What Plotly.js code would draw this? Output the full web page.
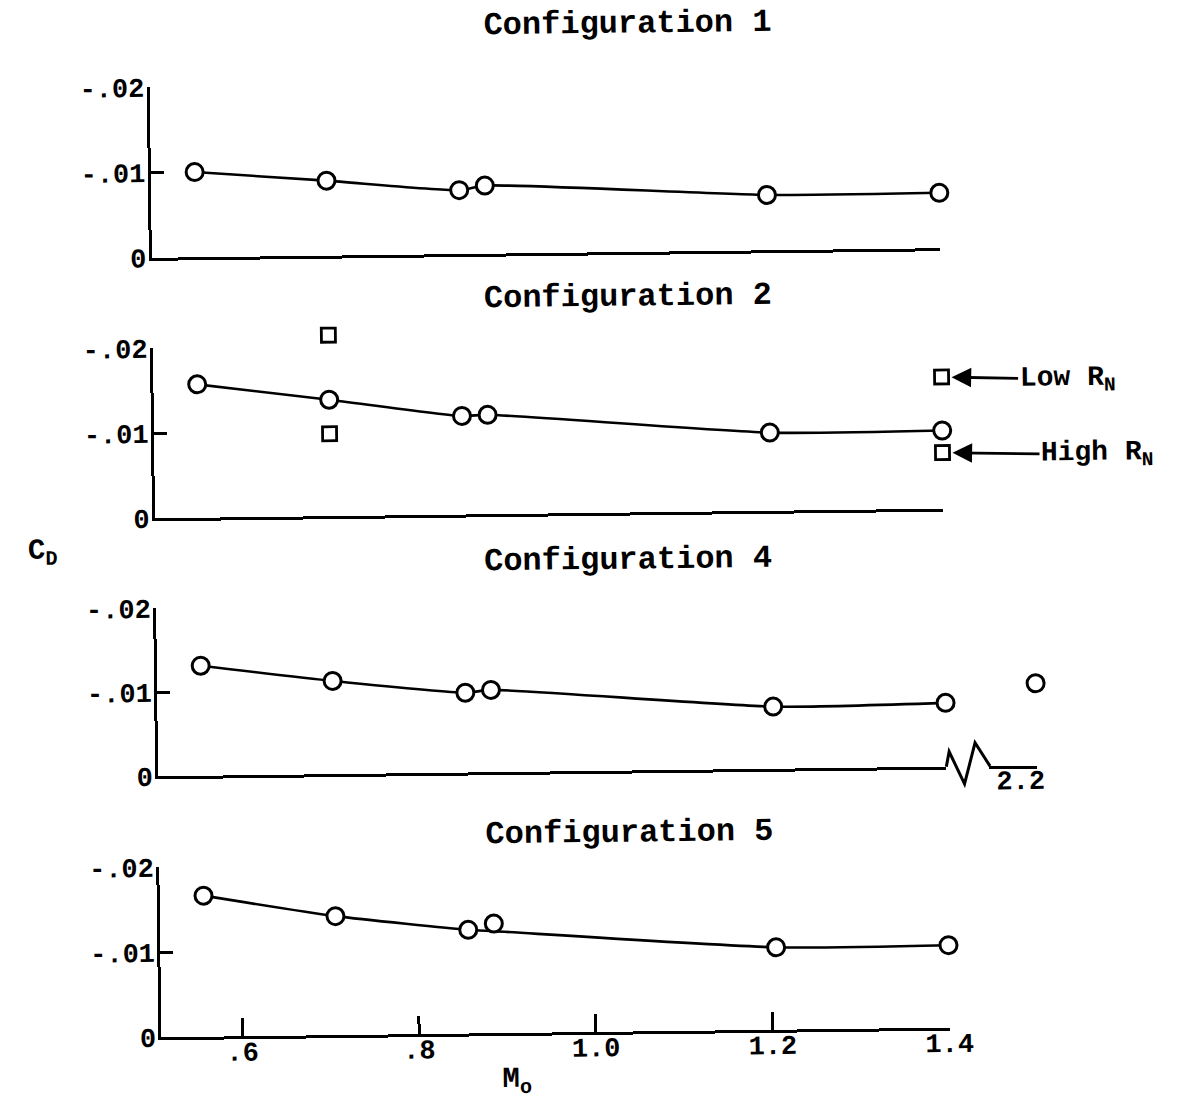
<!DOCTYPE html>
<html>
<head>
<meta charset="utf-8">
<script src="https://cdn.plot.ly/plotly-3.0.1.min.js"></script>
<style>
  html, body { margin: 0; padding: 0; background: #ffffff; overflow: hidden; }
  #chart { width: 1180px; height: 1108px; transform: rotate(-0.7deg); transform-origin: 590px 554px; }
</style>
</head>
<body>
<div id="chart"></div>
<script>
// Free-stream Mach number of each test point
const mach = [0.558, 0.707, 0.857, 0.886, 1.205, 1.40];

// Drag coefficient per configuration
const cdConfig1 = [-0.0100, -0.0088, -0.0075, -0.0080, -0.0065, -0.0065];
const cdConfig2 = [-0.0157, -0.0137, -0.0116, -0.0117, -0.0092, -0.0092];
const cdConfig4 = [-0.0131, -0.0111, -0.0095, -0.0098, -0.0074, -0.0076];
const cdConfig5 = [-0.0166, -0.0140, -0.0122, -0.0129, -0.0097, -0.0097];

// Faired curve for configuration 5 (passes under the M = .886 point)
const fairConfig5 = [-0.0166, -0.0140, -0.0122, -0.0120, -0.0097, -0.0097];

// Configuration 2, Reynolds-number check points
const machLowRN = [0.707, 1.40];
const cdLowRN = [-0.0213, -0.0155];
const machHighRN = [0.707, 1.40];
const cdHighRN = [-0.0097, -0.0066];

// Configuration 4, point beyond the axis break
const machConfig4Far = [2.2];
const cdConfig4Far = [-0.0098];

// Tick labels
const yTickVals = [-0.02, -0.01, 0];
const yTickText = ['-.02', '-.01', '0'];
const xTickVals = [0.6, 0.8, 1.0, 1.2, 1.4];
const xTickText = ['.6', '.8', '1.0', '1.2', '1.4'];
const farTickVals = [2.2];
const farTickText = ['2.2'];

const titles = ['Configuration 1', 'Configuration 2', 'Configuration 4', 'Configuration 5'];

// ---- page geometry (pixels) ----
const W = 1180, H = 1108;
const fx = X => X / W;
const fy = Y => 1 - Y / H;
const plotLeft = 155.5, plotRight = 943.7;
const machRange = [0.5084, 1.40];
const panels = [
  { top: 82, bottom: 252.5, titleX: 634, titleY: 25 },
  { top: 343, bottom: 513, titleX: 631, titleY: 297 },
  { top: 603, bottom: 771, titleX: 628, titleY: 560 },
  { top: 862, bottom: 1032, titleX: 626, titleY: 833 }
];
const breakLeft = 986.4, breakRight = 1034;
const pxPerMach = (plotRight - plotLeft) / (machRange[1] - machRange[0]);
const headroom = 30; // extra room above -.02 for points that sit higher

const FONT = 'Liberation Mono, Courier New, monospace';
const tickFont = { family: FONT, size: 27, color: '#000', weight: 700 };

const lineStyle = { color: '#000', width: 2.6, shape: 'spline', smoothing: 0.6 };
const circle = { symbol: 'circle', size: 17, color: '#fff', line: { color: '#000', width: 3 } };
const square = { symbol: 'square', size: 14, color: '#fff', line: { color: '#000', width: 2.8 } };

function curve(x, y, n) {
  return { x, y, xaxis: 'x' + n, yaxis: 'y' + n, mode: 'lines', line: lineStyle,
           cliponaxis: false, hoverinfo: 'skip', showlegend: false };
}
function points(x, y, xa, ya, marker) {
  return { x, y, xaxis: xa, yaxis: ya, mode: 'markers', marker,
           cliponaxis: false, hoverinfo: 'skip', showlegend: false };
}

const traces = [
  curve(mach, cdConfig1, 1),
  points(mach, cdConfig1, 'x', 'y', circle),
  curve(mach, cdConfig2, 2),
  points(mach, cdConfig2, 'x2', 'y2', circle),
  points(machLowRN, cdLowRN, 'x2', 'y6', square),
  points(machHighRN, cdHighRN, 'x2', 'y2', square),
  curve(mach, cdConfig4, 3),
  points(mach, cdConfig4, 'x3', 'y3', circle),
  points(machConfig4Far, cdConfig4Far, 'x5', 'y3', circle),
  curve(mach, fairConfig5, 4),
  points(mach, cdConfig5, 'x4', 'y4', circle)
];

const layout = {
  width: W, height: H,
  margin: { l: 0, r: 0, t: 0, b: 0, pad: 0 },
  paper_bgcolor: '#fff', plot_bgcolor: 'rgba(0,0,0,0)',
  showlegend: false,
  font: { family: FONT, color: '#000' },
  annotations: [],
  shapes: []
};

panels.forEach((p, i) => {
  const n = i + 1;
  const xk = n === 1 ? 'xaxis' : 'xaxis' + n;
  const yk = n === 1 ? 'yaxis' : 'yaxis' + n;
  const isBottom = n === 4;
  layout[xk] = {
    domain: [fx(plotLeft), fx(plotRight)],
    range: machRange,
    anchor: n === 1 ? 'y' : 'y' + n,
    showline: true, linecolor: '#000', linewidth: 3,
    showgrid: false, zeroline: false, fixedrange: true,
    ticks: n === 3 ? '' : 'inside',
    ticklen: isBottom ? 18 : 15, tickwidth: 3, tickcolor: '#000',
    tickvals: isBottom ? xTickVals : [1.4],
    ticktext: isBottom ? xTickText : ['1.4'],
    showticklabels: isBottom,
    tickfont: tickFont,
    ticklabelstandoff: -11
  };
  layout[yk] = {
    domain: [fy(p.bottom), fy(p.top)],
    range: [0, -0.02],
    anchor: n === 1 ? 'x' : 'x' + n,
    showline: true, linecolor: '#000', linewidth: 3,
    showgrid: false, zeroline: false, fixedrange: true,
    ticks: 'inside', ticklen: 13, tickwidth: 3, tickcolor: '#000',
    tickvals: yTickVals, ticktext: yTickText,
    tickfont: tickFont,
    ticklabelstandoff: -3
  };
  layout.annotations.push({
    xref: 'paper', yref: 'paper', x: fx(p.titleX), y: fy(p.titleY),
    xanchor: 'center', yanchor: 'middle', showarrow: false,
    text: titles[i], font: { family: FONT, size: 32, color: '#000', weight: 700 }
  });
});

// Same C_D scale as configuration 2, with room above -.02
const p2 = panels[1];
const cdPerPx = 0.02 / (p2.bottom - p2.top);
layout.yaxis6 = {
  domain: [fy(p2.bottom), fy(p2.top - headroom)],
  range: [0, -0.02 - headroom * cdPerPx],
  anchor: 'x2', visible: false, fixedrange: true
};

// Extended Mach scale for configuration 4, after the axis break
layout.xaxis5 = {
  domain: [fx(breakLeft), fx(breakRight)],
  range: [2.2 - (breakRight - breakLeft) / pxPerMach, 2.2],
  anchor: 'y3',
  showline: true, linecolor: '#000', linewidth: 3,
  showgrid: false, zeroline: false, fixedrange: true,
  ticks: 'inside', ticklen: 16, tickwidth: 3, tickcolor: '#000',
  tickvals: farTickVals, ticktext: farTickText,
  tickfont: tickFont, ticklabelshift: -16, ticklabelstandoff: -12
};

// Zig-zag axis break between 1.4 and 2.2
const b = panels[2].bottom;
const zig = [[plotRight, b], [plotRight + 3, b - 15], [plotRight + 18, b + 17.5],
             [plotRight + 29, b - 23.5], [breakLeft + 1, b]];
layout.shapes.push({
  type: 'path', xref: 'paper', yref: 'paper',
  path: zig.map((q, k) => (k ? 'L' : 'M') + fx(q[0]) + ',' + fy(q[1])).join(' '),
  line: { color: '#000', width: 3 }, fillcolor: 'rgba(0,0,0,0)'
});

// Reynolds-number callouts
layout.annotations.push({
  xref: 'x2', yref: 'y2', x: machLowRN[1], y: cdLowRN[1],
  text: 'Low R<sub>N</sub>', font: { family: FONT, size: 28, color: '#000', weight: 700 },
  showarrow: true, axref: 'pixel', ayref: 'pixel', ax: 126, ay: 4,
  arrowhead: 2, arrowsize: 1.4, arrowwidth: 2.8, arrowcolor: '#000', standoff: 10
});
layout.annotations.push({
  xref: 'x2', yref: 'y2', x: machHighRN[1], y: cdHighRN[1],
  text: 'High R<sub>N</sub>', font: { family: FONT, size: 28, color: '#000', weight: 700 },
  showarrow: true, axref: 'pixel', ayref: 'pixel', ax: 155, ay: 4,
  arrowhead: 2, arrowsize: 1.4, arrowwidth: 2.8, arrowcolor: '#000', standoff: 10
});

// Axis titles
layout.annotations.push({
  xref: 'paper', yref: 'paper', x: fx(26), y: fy(546),
  xanchor: 'left', yanchor: 'middle', showarrow: false,
  text: 'C<sub>D</sub>', font: { family: FONT, size: 29, color: '#000', weight: 700 }
});
layout.annotations.push({
  xref: 'paper', yref: 'paper', x: fx(494), y: fy(1080),
  xanchor: 'left', yanchor: 'middle', showarrow: false,
  text: 'M<sub>o</sub>', font: { family: FONT, size: 29, color: '#000', weight: 700 }
});

Plotly.newPlot('chart', traces, layout, { displayModeBar: false, staticPlot: true });
</script>
</body>
</html>
